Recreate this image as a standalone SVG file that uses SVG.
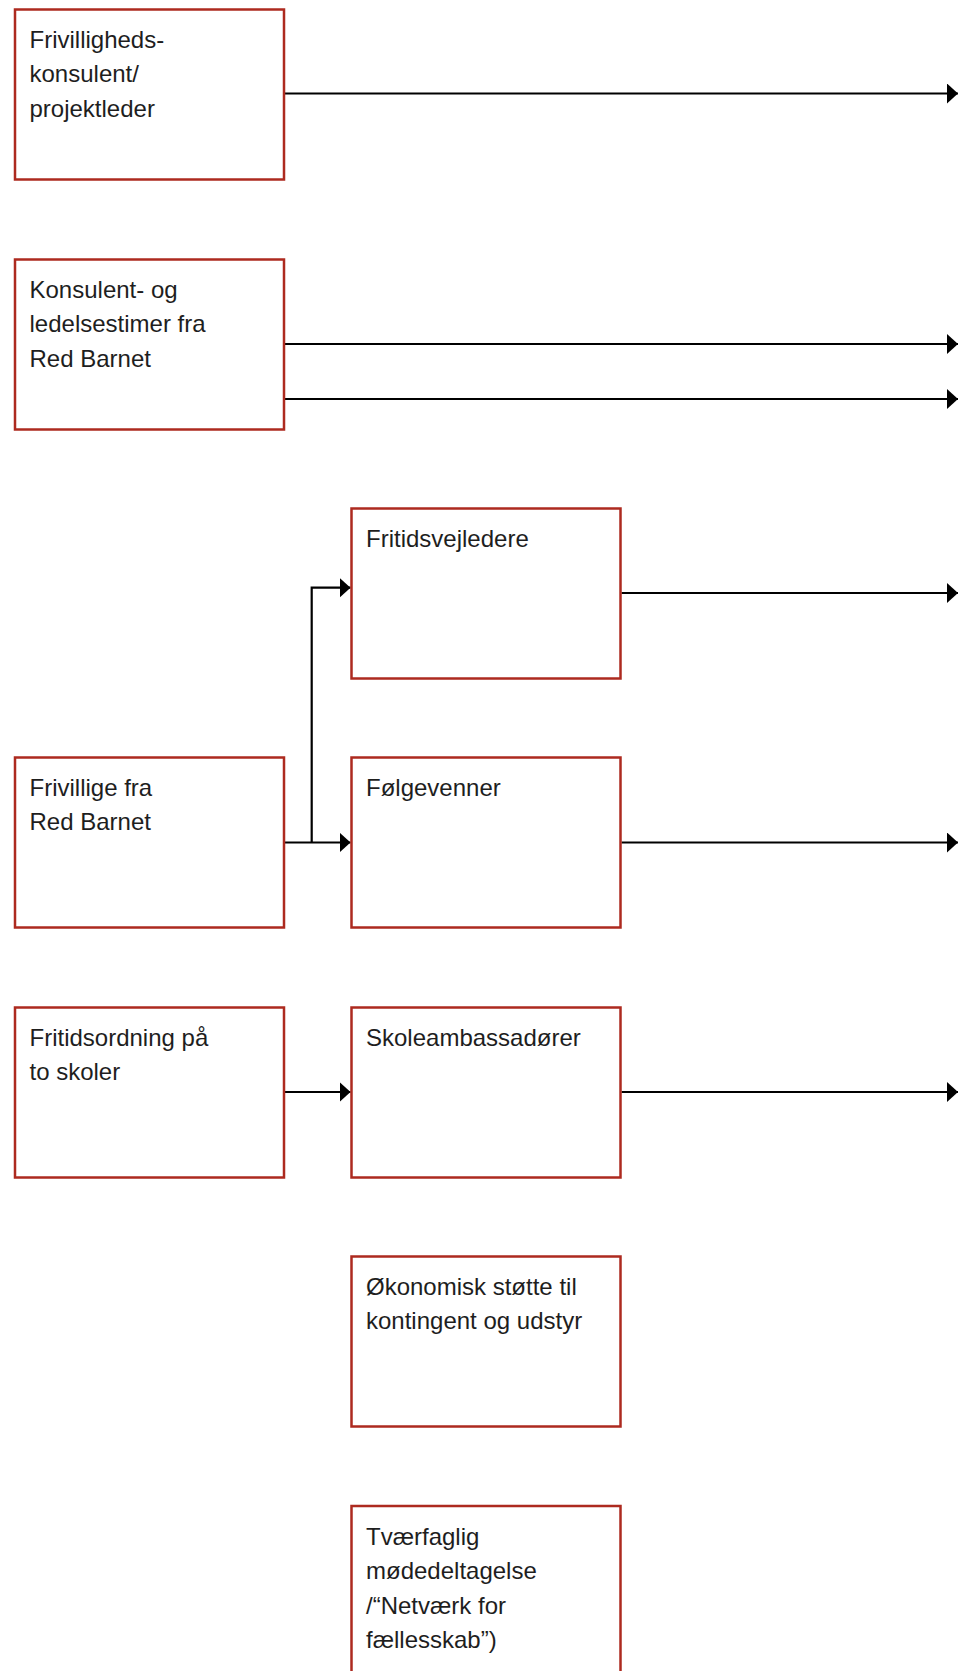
<svg xmlns="http://www.w3.org/2000/svg" width="967" height="1671" viewBox="0 0 967 1671">
<style>
.box{fill:#fff;stroke:#ad2a1f;stroke-width:2.5}
.t{font-family:"Liberation Sans",Arial,sans-serif;font-size:24px;fill:#1e1e1e}
.c{fill:none;stroke:#000;stroke-width:2.2;marker-end:url(#ah)}
</style>
<defs>
<marker id="ah" markerUnits="userSpaceOnUse" markerWidth="12" markerHeight="20" refX="11" refY="10" orient="auto" viewBox="0 0 12 20">
<path d="M0,0 L11,10 L0,20 z" fill="#000"/>
</marker>
</defs>
<rect width="967" height="1671" fill="#fff"/>
<g id="connectors">
<path class="c" d="M285,93.5 H958"/>
<path class="c" d="M285,344 H958"/>
<path class="c" d="M285,399 H958"/>
<path class="c" d="M621.5,593 H958"/>
<path class="c" d="M311.7,842.5 V587.7 H350.5"/>
<path class="c" d="M285,842.5 H350.5"/>
<path class="c" d="M621.5,842.5 H958"/>
<path class="c" d="M285,1092 H350.5"/>
<path class="c" d="M621.5,1092 H958"/>
</g>
<g id="n1"><rect class="box" x="15" y="9.5" width="269" height="170"/>
<text class="t" x="29.5" y="48">Frivilligheds-</text>
<text class="t" x="29.5" y="82.3">konsulent/</text>
<text class="t" x="29.5" y="116.6">projektleder</text></g>
<g id="n2"><rect class="box" x="15" y="259.5" width="269" height="170"/>
<text class="t" x="29.5" y="298">Konsulent- og</text>
<text class="t" x="29.5" y="332.3">ledelsestimer fra</text>
<text class="t" x="29.5" y="366.6">Red Barnet</text></g>
<g id="n3"><rect class="box" x="351.5" y="508.5" width="269" height="170"/>
<text class="t" x="366" y="547">Fritidsvejledere</text></g>
<g id="n4"><rect class="box" x="15" y="757.5" width="269" height="170"/>
<text class="t" x="29.5" y="796">Frivillige fra</text>
<text class="t" x="29.5" y="830.3">Red Barnet</text></g>
<g id="n5"><rect class="box" x="351.5" y="757.5" width="269" height="170"/>
<text class="t" x="366" y="796">Følgevenner</text></g>
<g id="n6"><rect class="box" x="15" y="1007.5" width="269" height="170"/>
<text class="t" x="29.5" y="1046">Fritidsordning på</text>
<text class="t" x="29.5" y="1080.3">to skoler</text></g>
<g id="n7"><rect class="box" x="351.5" y="1007.5" width="269" height="170"/>
<text class="t" x="366" y="1046">Skoleambassadører</text></g>
<g id="n8"><rect class="box" x="351.5" y="1256.5" width="269" height="170"/>
<text class="t" x="366" y="1295">Økonomisk støtte til</text>
<text class="t" x="366" y="1329.3">kontingent og udstyr</text></g>
<g id="n9"><rect class="box" x="351.5" y="1506" width="269" height="170"/>
<text class="t" x="366" y="1545">Tværfaglig</text>
<text class="t" x="366" y="1579.3">mødedeltagelse</text>
<text class="t" x="366" y="1613.6">/“Netværk for</text>
<text class="t" x="366" y="1647.9">fællesskab”)</text></g>
</svg>
